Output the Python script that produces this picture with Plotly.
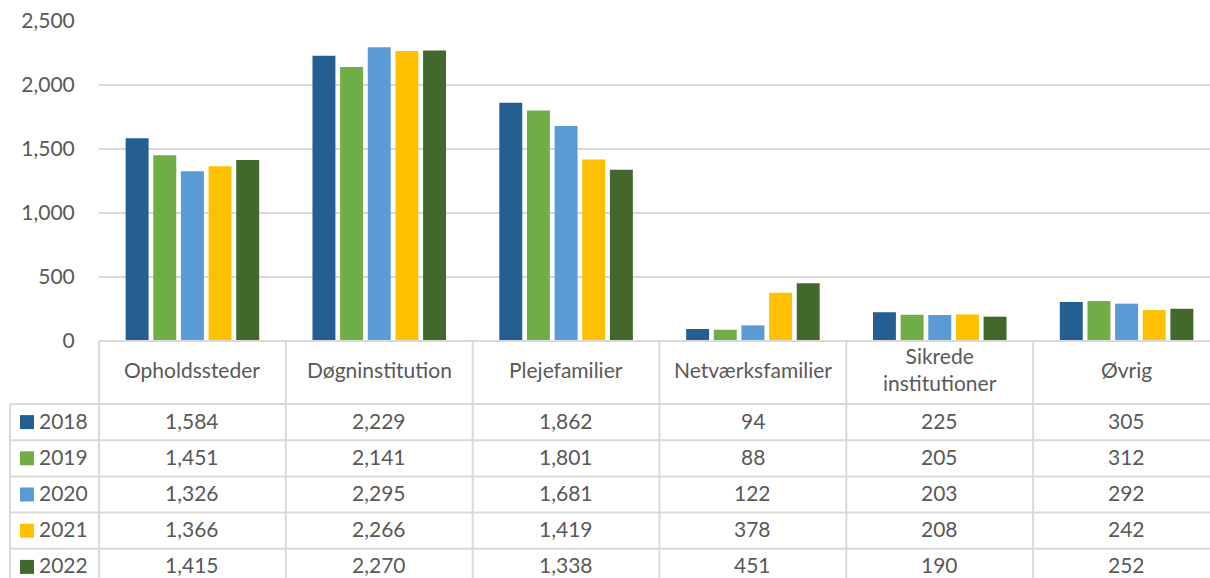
import plotly.graph_objs as go

categories = ['Opholdssteder', 'Døgninstitution', 'Plejefamilier',
              'Netværksfamilier', 'Sikrede<br>institutioner', 'Øvrig']
years = ['2018', '2019', '2020', '2021', '2022']
v2018 = [1584, 2229, 1862, 94, 225, 305]
v2019 = [1451, 2141, 1801, 88, 205, 312]
v2020 = [1326, 2295, 1681, 122, 203, 292]
v2021 = [1366, 2266, 1419, 378, 208, 242]
v2022 = [1415, 2270, 1338, 451, 190, 252]
series = [v2018, v2019, v2020, v2021, v2022]
colors = ['#255E91', '#70AD47', '#5B9BD5', '#FFC000', '#43682B']

# plot area runs a little past the right edge of the window, as in the original
W, H = 1220, 578
left, top, bottom = 99, 21, 341
text_color = '#595959'
grid_color = '#D9D9D9'
font_family = 'Lato, Open Sans, sans-serif'
fsize = 21


def py(sy):
    # pixel row -> paper y
    return (bottom - sy) / (bottom - top)


def px_x(sx):
    # pixel column -> paper x
    return (sx - left) / (W - left)


data = [
    go.Bar(x=categories, y=vals, name=yr, marker=dict(color=col, line=dict(width=0)))
    for yr, vals, col in zip(years, series, colors)
]

layout = go.Layout(
    width=W, height=H,
    margin=dict(l=left, r=0, t=top, b=H - bottom, pad=0),
    paper_bgcolor='white', plot_bgcolor='white',
    barmode='group', bargap=0.26, bargroupgap=0.17,
    showlegend=False,
    font=dict(family=font_family, size=fsize, color=text_color),
    xaxis=dict(showticklabels=False, showgrid=False, zeroline=False,
               showline=False, ticks=''),
    yaxis=dict(range=[0, 2501], tickvals=[0, 500, 1000, 1500, 2000, 2500],
               tickformat=',',
               showgrid=True, gridcolor=grid_color, gridwidth=2,
               zeroline=False, showline=False,
               ticks='outside', ticklen=19, tickcolor='rgba(0,0,0,0)',
               tickfont=dict(size=fsize, color=text_color)),
)

fig = go.Figure(data=data, layout=layout)

# table grid
shapes = []
line = dict(color=grid_color, width=2)
row_h = 36.2
header_bottom = 404
row_tops = [header_bottom + row_h * i for i in range(len(years) + 1)]
shapes.append(dict(type='line', xref='paper', yref='paper', x0=0, x1=1,
                   y0=py(bottom), y1=py(bottom), line=line))
for rt in row_tops:
    shapes.append(dict(type='line', xref='paper', yref='paper', x0=px_x(10), x1=1,
                       y0=py(rt), y1=py(rt), line=line))
n = len(categories)
for i in range(n + 1):
    xp = i / n
    shapes.append(dict(type='line', xref='paper', yref='paper', x0=xp, x1=xp,
                       y0=py(bottom), y1=py(600), line=line))
shapes.append(dict(type='line', xref='paper', yref='paper', x0=px_x(10), x1=px_x(10),
                   y0=py(header_bottom), y1=py(600), line=line))

annotations = []
for i, cat in enumerate(categories):
    annotations.append(dict(x=(i + 0.5) / n, y=py(369),
                            xref='paper', yref='paper', text=cat, showarrow=False,
                            font=dict(size=fsize, color=text_color),
                            xanchor='center', yanchor='middle'))
for r, (yr, vals, col) in enumerate(zip(years, series, colors)):
    yc_px = row_tops[r] + row_h / 2
    yc = py(yc_px - 2)
    shapes.append(dict(type='rect', xref='paper', yref='paper',
                       x0=px_x(20), x1=px_x(34),
                       y0=py(yc_px + 7), y1=py(yc_px - 7),
                       fillcolor=col, line=dict(width=0)))
    annotations.append(dict(x=px_x(37), y=yc, xref='paper', yref='paper',
                            text=yr, showarrow=False, xanchor='left', yanchor='middle',
                            font=dict(size=fsize, color=text_color)))
    for i, v in enumerate(vals):
        annotations.append(dict(x=(i + 0.5) / n, y=yc, xref='paper', yref='paper',
                                text=f'{v:,}', showarrow=False,
                                xanchor='center', yanchor='middle',
                                font=dict(size=fsize, color=text_color)))

fig.update_layout(shapes=shapes, annotations=annotations)
# drop the default page margin so the figure sits at the window's corner
fig.write_html('out.html', config={'displayModeBar': False}, post_script=(
    "document.body.style.margin='0';"
    "document.body.style.overflow='hidden';"))
